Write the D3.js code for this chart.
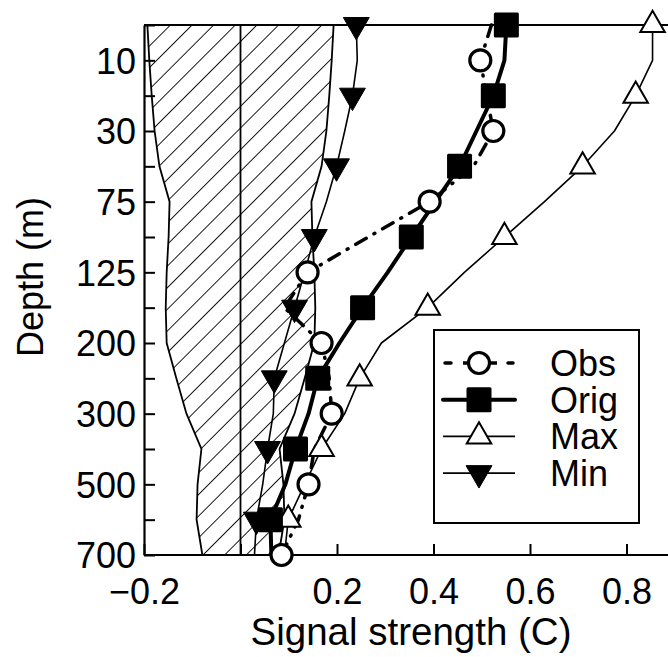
<!DOCTYPE html>
<html><head><meta charset="utf-8">
<script src="https://cdn.jsdelivr.net/npm/d3@7"></script>
<style>
body{margin:0;background:#fff;}
text{font-family:"Liberation Sans",Arial,Helvetica,sans-serif;}
</style></head>
<body>
<svg id="chart" width="668" height="657"></svg>
<script>
// Depth levels (m)
const depths = [0,10,20,30,50,75,100,125,150,200,250,300,400,500,600,700];
const yTickLabels = ["","10","","30","","75","","125","","200","","300","","500","","700"];
const xTickValues = [-0.2,0,0.2,0.4,0.6,0.8];
const xTickLabels = ["\u22120.2","","0.2","0.4","0.6","0.8"];
// half-width of the hatched noise band
const noise = [0.193,0.189,0.184,0.178,0.168,0.147,0.149,0.153,0.155,0.153,0.133,0.112,0.081,0.089,0.091,0.079];
const obs  = [0.520,0.497,0.510,0.524,0.483,0.392,0.265,0.139,0.091,0.168,0.184,0.189,0.153,0.141,0.120,0.085];
const orig = [0.551,0.547,0.524,0.489,0.454,0.404,0.354,0.305,0.253,0.205,0.160,0.141,0.114,0.093,0.062,0.064];
const maxS = [0.854,0.854,0.819,0.775,0.709,0.630,0.547,0.464,0.388,0.292,0.247,0.216,0.168,0.133,0.099,0.091];
const minS = [0.240,0.242,0.232,0.216,0.199,0.178,0.153,0.133,0.112,0.091,0.070,0.068,0.056,0.046,0.033,0.029];
const seriesNames = ["Obs","Orig","Max","Min"];

const svg = d3.select("#chart");
const x = d3.scaleLinear().domain([-0.2,0.9]).range([144,144+1.1*482.5]);
const y = d3.scalePoint().domain(depths).range([25,555]);

// hatch pattern
const defs = svg.append("defs");
const pat = defs.append("pattern").attr("id","hatch").attr("patternUnits","userSpaceOnUse")
  .attr("width",15.3).attr("height",15.3).attr("patternTransform","rotate(45)");
pat.append("line").attr("x1",0).attr("y1",0).attr("x2",0).attr("y2",15.3)
  .attr("stroke","#000").attr("stroke-width",1.8);

const area = d3.area().y((d,i)=>y(depths[i])).x0(d=>x(-d)).x1(d=>x(d));
svg.append("path").datum(noise).attr("d",area).attr("fill","url(#hatch)");
const lineL = d3.line().y((d,i)=>y(depths[i])).x(d=>x(-d));
const lineR = d3.line().y((d,i)=>y(depths[i])).x(d=>x(d));
svg.append("path").datum(noise).attr("d",lineL).attr("fill","none").attr("stroke","#000").attr("stroke-width",1.8);
svg.append("path").datum(noise).attr("d",lineR).attr("fill","none").attr("stroke","#000").attr("stroke-width",1.8);

// zero line
svg.append("line").attr("x1",x(0)).attr("x2",x(0)).attr("y1",y(0)).attr("y2",y(700))
  .attr("stroke","#000").attr("stroke-width",1.8);

// top border
svg.append("line").attr("x1",x(-0.2)).attr("x2",668).attr("y1",y(0)).attr("y2",y(0))
  .attr("stroke","#000").attr("stroke-width",2);

// axes
const yAxis = d3.axisLeft(y).tickSize(-11).tickSizeOuter(0).tickPadding(8)
  .tickFormat((d,i)=>yTickLabels[i]);
const gy = svg.append("g").attr("transform",`translate(${x(-0.2)},0)`).call(yAxis);
const xAxis = d3.axisBottom(x).tickValues(xTickValues).tickSize(-11).tickSizeOuter(0).tickPadding(23)
  .tickFormat((d,i)=>xTickLabels[i]);
const gx = svg.append("g").attr("transform",`translate(0,${y(700)})`).call(xAxis);
[gx,gy].forEach(g=>{
  g.selectAll("path.domain").attr("stroke","#000").attr("stroke-width",2.2);
  g.selectAll(".tick line").attr("stroke","#000").attr("stroke-width",2);
  g.selectAll("text").attr("font-size",36).attr("fill","#000").attr("font-family","Liberation Sans, Arial, sans-serif");
});
gx.select("path.domain").attr("d",`M${x(-0.2)},0H668`);
gy.selectAll(".tick text").attr("dy","0.36em");
gx.selectAll(".tick text").attr("dy","0.71em");

// axis titles
svg.append("text").attr("x",411).attr("y",645).attr("text-anchor","middle")
  .attr("font-size",38.5).text("Signal strength (C)");
svg.append("text").attr("transform","translate(43,277) rotate(-90)").attr("text-anchor","middle")
  .attr("font-size",36).text("Depth (m)");

const lineGen = d3.line().y((d,i)=>y(depths[i])).x(d=>x(d));
const styles = {
  Obs:{data:obs,w:3.5,dash:"12,9,1,9",cap:"round",marks:1},
  Orig:{data:orig,w:4,dash:null,cap:"butt",marks:0},
  Max:{data:maxS,w:1.6,dash:null,cap:"butt",marks:0},
  Min:{data:minS,w:1.6,dash:null,cap:"butt",marks:0}
};
function drawMarker(g,name,cx,cy){
  if(name==="Obs"){
    g.append("circle").attr("cx",cx).attr("cy",cy).attr("r",10.5).attr("fill","#fff").attr("stroke","#000").attr("stroke-width",3.2);
  } else if(name==="Orig"){
    g.append("rect").attr("x",cx-12.5).attr("y",cy-12.5).attr("width",25).attr("height",25).attr("rx",1.5).attr("fill","#000");
  } else if(name==="Max"){
    g.append("path").attr("transform",`translate(${cx},${cy})`).attr("d",d3.symbol(d3.symbolTriangle,260)())
      .attr("fill","#fff").attr("stroke","#000").attr("stroke-width",2);
  } else {
    g.append("path").attr("transform",`translate(${cx},${cy}) rotate(180)`).attr("d",d3.symbol(d3.symbolTriangle,290)())
      .attr("fill","#000").attr("stroke","#000").attr("stroke-width",1);
  }
}
const drawOrder = ["Max","Min","Orig","Obs"];
drawOrder.forEach(n=>{
  const s=styles[n];
  svg.append("path").datum(s.data).attr("d",lineGen).attr("fill","none").attr("stroke","#000")
    .attr("stroke-width",s.w).attr("stroke-dasharray",s.dash).attr("stroke-linecap",s.cap).attr("stroke-linejoin","round");
});
drawOrder.forEach(n=>{
  const s=styles[n];
  const g=svg.append("g");
  s.data.forEach((v,i)=>{ if(i%2===s.marks) drawMarker(g,n,x(v),y(depths[i])); });
});

// legend
const lg = svg.append("g");
lg.append("rect").attr("x",434).attr("y",330).attr("width",205).attr("height",193)
  .attr("fill","#fff").attr("stroke","#000").attr("stroke-width",2);
seriesNames.forEach((n,i)=>{
  const cy = 363 + i*36.7;
  const s = styles[n];
  if(n==="Obs"){
    lg.append("line").attr("x1",445).attr("x2",451).attr("y1",cy).attr("y2",cy).attr("stroke","#000").attr("stroke-width",3.5).attr("stroke-linecap","round");
    lg.append("line").attr("x1",463).attr("x2",497).attr("y1",cy).attr("y2",cy).attr("stroke","#000").attr("stroke-width",3.5);
    lg.append("line").attr("x1",508).attr("x2",513).attr("y1",cy).attr("y2",cy).attr("stroke","#000").attr("stroke-width",3.5).attr("stroke-linecap","round");
  } else {
    lg.append("line").attr("x1",443).attr("x2",515).attr("y1",cy).attr("y2",cy).attr("stroke","#000")
      .attr("stroke-width",s.w).attr("stroke-linecap",n==="Orig"?"round":"butt");
  }
  drawMarker(lg,n,479,cy);
  lg.append("text").attr("x",550).attr("y",cy).attr("dy","0.36em").attr("font-size",36).text(n);
});
</script>
</body></html>
